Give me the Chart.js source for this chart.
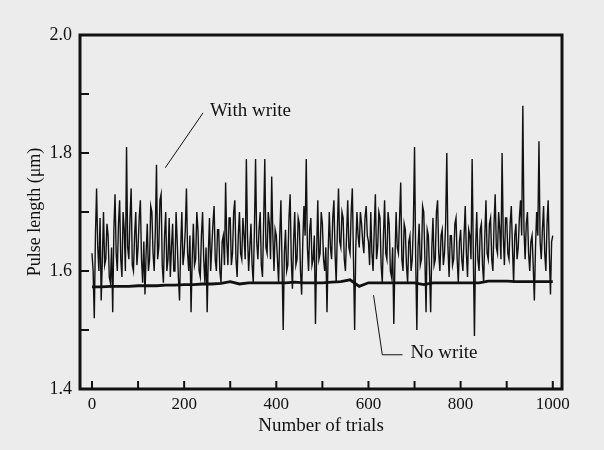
<!DOCTYPE html>
<html lang="en">
<head>
    <meta charset="UTF-8">
    <title>Pulse length vs number of trials</title>
    <style>
        body {
            margin: 0;
            background-color: #ececec;
        }
        canvas {
            display: block;
        }
    </style>
</head>
<body>
    <canvas id="chart" width="604" height="450"></canvas>

    <script src="https://cdn.jsdelivr.net/npm/chart.js"></script>
    <script>
        // With write: one reading every 2.5 trials, 0..1000 (20 per row = 50 trials)
        const writeStep = 2.5;
        const withWrite = [
            1.63, 1.60, 1.52, 1.66, 1.74, 1.64, 1.60, 1.69, 1.55, 1.62, 1.70, 1.61, 1.62, 1.68, 1.66, 1.59, 1.58, 1.64, 1.53, 1.67,
            1.73, 1.63, 1.60, 1.68, 1.72, 1.62, 1.59, 1.70, 1.67, 1.60, 1.81, 1.64, 1.62, 1.69, 1.74, 1.61, 1.60, 1.66, 1.70, 1.61,
            1.64, 1.69, 1.72, 1.62, 1.58, 1.65, 1.56, 1.63, 1.68, 1.60, 1.62, 1.71, 1.70, 1.63, 1.60, 1.67, 1.78, 1.62, 1.64, 1.72,
            1.73, 1.61, 1.58, 1.66, 1.70, 1.60, 1.62, 1.69, 1.59, 1.64, 1.68, 1.60, 1.60, 1.70, 1.65, 1.59, 1.55, 1.64, 1.70, 1.61,
            1.63, 1.67, 1.74, 1.63, 1.60, 1.66, 1.53, 1.62, 1.68, 1.61, 1.62, 1.70, 1.67, 1.60, 1.59, 1.66, 1.70, 1.62, 1.58, 1.64,
            1.53, 1.63, 1.69, 1.60, 1.64, 1.68, 1.71, 1.62, 1.60, 1.67, 1.67, 1.60, 1.58, 1.65, 1.66, 1.61, 1.75, 1.65, 1.61, 1.69,
            1.69, 1.61, 1.63, 1.70, 1.72, 1.62, 1.59, 1.66, 1.70, 1.63, 1.62, 1.69, 1.66, 1.62, 1.79, 1.66, 1.60, 1.64, 1.68, 1.61,
            1.58, 1.67, 1.79, 1.65, 1.62, 1.67, 1.70, 1.61, 1.59, 1.68, 1.79, 1.64, 1.63, 1.70, 1.68, 1.62, 1.76, 1.66, 1.60, 1.67,
            1.66, 1.62, 1.58, 1.66, 1.72, 1.61, 1.50, 1.63, 1.67, 1.60, 1.61, 1.69, 1.73, 1.62, 1.57, 1.65, 1.70, 1.61, 1.62, 1.69,
            1.68, 1.60, 1.56, 1.65, 1.71, 1.66, 1.79, 1.64, 1.60, 1.67, 1.69, 1.61, 1.62, 1.66, 1.51, 1.63, 1.72, 1.62, 1.63, 1.70,
            1.68, 1.62, 1.60, 1.64, 1.53, 1.63, 1.70, 1.64, 1.62, 1.69, 1.72, 1.63, 1.58, 1.67, 1.74, 1.65, 1.64, 1.70, 1.69, 1.62,
            1.60, 1.66, 1.72, 1.64, 1.63, 1.70, 1.74, 1.62, 1.50, 1.64, 1.70, 1.66, 1.64, 1.70, 1.68, 1.65, 1.63, 1.69, 1.71, 1.66,
            1.65, 1.61, 1.70, 1.63, 1.60, 1.67, 1.73, 1.62, 1.64, 1.70, 1.69, 1.61, 1.58, 1.66, 1.72, 1.63, 1.62, 1.70, 1.68, 1.60,
            1.59, 1.64, 1.51, 1.62, 1.70, 1.64, 1.63, 1.69, 1.75, 1.62, 1.60, 1.68, 1.67, 1.61, 1.58, 1.65, 1.66, 1.60, 1.62, 1.68,
            1.81, 1.62, 1.50, 1.64, 1.68, 1.61, 1.62, 1.71, 1.70, 1.62, 1.53, 1.67, 1.66, 1.60, 1.53, 1.64, 1.69, 1.61, 1.62, 1.70,
            1.72, 1.63, 1.60, 1.66, 1.67, 1.61, 1.63, 1.68, 1.80, 1.64, 1.59, 1.66, 1.66, 1.61, 1.62, 1.68, 1.69, 1.62, 1.58, 1.65,
            1.67, 1.62, 1.60, 1.66, 1.71, 1.63, 1.59, 1.67, 1.66, 1.62, 1.79, 1.63, 1.49, 1.64, 1.70, 1.62, 1.60, 1.67, 1.68, 1.61,
            1.58, 1.66, 1.72, 1.63, 1.62, 1.68, 1.69, 1.62, 1.60, 1.68, 1.73, 1.64, 1.63, 1.70, 1.67, 1.62, 1.80, 1.66, 1.61, 1.69,
            1.69, 1.63, 1.62, 1.68, 1.71, 1.64, 1.58, 1.66, 1.68, 1.62, 1.64, 1.69, 1.72, 1.66, 1.88, 1.67, 1.62, 1.68, 1.70, 1.63,
            1.60, 1.65, 1.66, 1.61, 1.55, 1.64, 1.70, 1.66, 1.82, 1.65, 1.62, 1.67, 1.71, 1.63, 1.60, 1.68, 1.72, 1.63, 1.56, 1.65,
            1.66
        ];

        // No write: one reading every 20 trials, 0..1000
        const noWriteStep = 20;
        const noWrite = [
            1.573, 1.573, 1.574, 1.574, 1.574, 1.575, 1.575, 1.575, 1.576, 1.576,
            1.577, 1.577, 1.578, 1.578, 1.579, 1.582, 1.578, 1.580, 1.580, 1.580,
            1.580, 1.580, 1.581, 1.580, 1.580, 1.580, 1.581, 1.582, 1.585, 1.574,
            1.580, 1.580, 1.580, 1.580, 1.580, 1.580, 1.577, 1.580, 1.580, 1.580,
            1.580, 1.580, 1.580, 1.583, 1.583, 1.583, 1.582, 1.582, 1.582, 1.582,
            1.582
        ];

        const xTicks = [0, 100, 200, 300, 400, 500, 600, 700, 800, 900, 1000];
        const xLabels = [0, 200, 400, 600, 800, 1000];
        const yTicks = [1.4, 1.5, 1.6, 1.7, 1.8, 1.9, 2.0];
        const yLabels = [1.4, 1.6, 1.8, 2.0];

        const serif = '"Liberation Serif", "DejaVu Serif", serif';
        const ink = '#111';

        // text labels with leader lines, in data units
        const notes = [
            { text: 'With write', at: [256, 1.872], line: [[241, 1.868], [159, 1.775]] },
            { text: 'No write', at: [691, 1.461], line: [[611, 1.559], [630, 1.458], [674, 1.458]] }
        ];

        const framePlugin = {
            id: 'frame',
            beforeDraw(chart) {
                const c = chart.ctx;
                c.save();
                c.fillStyle = '#ececec';
                c.fillRect(0, 0, chart.width, chart.height);
                c.restore();
            },
            afterDraw(chart) {
                const c = chart.ctx;
                const a = chart.chartArea;
                const xs = chart.scales.x;
                const ys = chart.scales.y;
                c.save();
                c.strokeStyle = ink;
                c.lineWidth = 2;
                xTicks.forEach(v => {
                    const px = xs.getPixelForValue(v);
                    c.beginPath();
                    c.moveTo(px, a.bottom);
                    c.lineTo(px, a.bottom - 8);
                    c.stroke();
                });
                yTicks.forEach(v => {
                    const py = ys.getPixelForValue(v);
                    c.beginPath();
                    c.moveTo(a.left, py);
                    c.lineTo(a.left + 9, py);
                    c.stroke();
                });
                c.lineWidth = 3;
                c.strokeRect(a.left, a.top, a.right - a.left, a.bottom - a.top);

                c.lineWidth = 1;
                c.fillStyle = ink;
                c.font = '19px ' + serif;
                c.textBaseline = 'middle';
                notes.forEach(n => {
                    c.beginPath();
                    n.line.forEach((p, i) => {
                        const px = xs.getPixelForValue(p[0]);
                        const py = ys.getPixelForValue(p[1]);
                        if (i === 0) c.moveTo(px, py); else c.lineTo(px, py);
                    });
                    c.stroke();
                    c.fillText(n.text, xs.getPixelForValue(n.at[0]), ys.getPixelForValue(n.at[1]));
                });
                c.restore();
            }
        };

        const ctx = document.getElementById('chart').getContext('2d');
        new Chart(ctx, {
            type: 'line',
            data: {
                datasets: [{
                    label: 'With write',
                    data: withWrite.map((v, i) => ({ x: i * writeStep, y: v })),
                    borderColor: ink,
                    borderWidth: 1.4,
                    pointRadius: 0,
                    tension: 0
                }, {
                    label: 'No write',
                    data: noWrite.map((v, i) => ({ x: i * noWriteStep, y: v })),
                    borderColor: ink,
                    borderWidth: 2.8,
                    pointRadius: 0,
                    tension: 0
                }]
            },
            options: {
                responsive: false,
                animation: false,
                devicePixelRatio: 1,
                layout: { padding: { top: 35, right: 42, left: 0, bottom: 0 } },
                plugins: {
                    legend: { display: false },
                    tooltip: { enabled: false }
                },
                scales: {
                    x: {
                        type: 'linear',
                        min: -26,
                        max: 1020,
                        grid: { display: false, drawTicks: false, tickLength: 0 },
                        border: { display: false },
                        afterBuildTicks: s => { s.ticks = xTicks.map(v => ({ value: v })); },
                        afterFit: s => { s.height = 61; },
                        ticks: {
                            autoSkip: false,
                            maxRotation: 0,
                            padding: 5,
                            color: ink,
                            font: { family: serif, size: 17 },
                            callback: v => xLabels.includes(v) ? String(v) : ''
                        },
                        title: {
                            display: true,
                            text: 'Number of trials',
                            color: ink,
                            font: { family: serif, size: 19 },
                            padding: { top: 0, bottom: 13 }
                        }
                    },
                    y: {
                        min: 1.4,
                        max: 2.0,
                        grid: { display: false, drawTicks: false, tickLength: 0 },
                        border: { display: false },
                        afterBuildTicks: s => { s.ticks = yTicks.map(v => ({ value: v })); },
                        afterFit: s => { s.width = 80; },
                        ticks: {
                            autoSkip: false,
                            padding: 8,
                            color: ink,
                            font: { family: serif, size: 18 },
                            callback: v => yLabels.some(l => Math.abs(l - v) < 1e-6) ? v.toFixed(1) : ''
                        },
                        title: {
                            display: true,
                            text: 'Pulse length (μm)',
                            color: ink,
                            font: { family: serif, size: 18 },
                            padding: { top: 24, bottom: 0 }
                        }
                    }
                }
            },
            plugins: [framePlugin]
        });
    </script>
</body>
</html>
